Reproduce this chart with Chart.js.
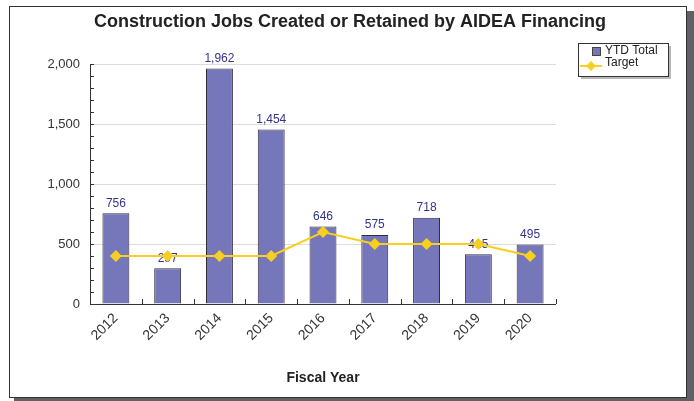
<!DOCTYPE html>
<html>
<head>
<meta charset="utf-8">
<script src="https://cdn.jsdelivr.net/npm/chart.js@4"></script>
<style>
  html, body { margin: 0; padding: 0; background: #fff; }
  #wrap { position: relative; width: 694px; height: 401px; }
</style>
</head>
<body>
<div id="wrap"><canvas id="jobsChart" width="694" height="401"></canvas></div>
<script>
// chart data
const years = ['2012', '2013', '2014', '2015', '2016', '2017', '2018', '2019', '2020'];
const ytdTotal = [756, 297, 1962, 1454, 646, 575, 718, 415, 495];
const target = [400, 400, 400, 400, 600, 500, 500, 500, 400];
const yTicks = [0, 500, 1000, 1500, 2000];

const barColor = '#7676bb';
const lineColor = '#f7cf1e';
const fontFam = '"Liberation Sans", Arial, sans-serif';

// frame, title, legend, value labels and small tick marks
const decorPlugin = {
    id: 'decor',
    beforeDraw(chart) {
        const ctx = chart.ctx;
        ctx.save();
        // shadow
        ctx.fillStyle = '#606066';
        ctx.fillRect(686, 11, 8, 390);
        ctx.fillRect(14, 397, 680, 4);
        ctx.fillStyle = '#fff';
        ctx.fillRect(9, 6, 677, 391);
        ctx.strokeStyle = '#333';
        ctx.lineWidth = 1;
        ctx.strokeRect(9.5, 6.5, 677, 391);
        // title
        ctx.fillStyle = '#222';
        ctx.font = 'bold 18px ' + fontFam;
        ctx.textAlign = 'center';
        ctx.textBaseline = 'middle';
        ctx.fillText('Construction Jobs Created or Retained by AIDEA Financing', 350, 22);
        ctx.restore();
    },
    afterDatasetDraw(chart, args) {
        if (args.index !== 0) return;
        // value labels above bars (under the target line)
        const ctx = chart.ctx;
        const meta = chart.getDatasetMeta(0);
        ctx.save();
        ctx.fillStyle = '#33338f';
        ctx.font = '12px ' + fontFam;
        ctx.textAlign = 'center';
        ctx.textBaseline = 'bottom';
        meta.data.forEach((bar, i) => {
            ctx.fillText(ytdTotal[i].toLocaleString('en-US'), bar.x, bar.y - 4);
        });
        ctx.restore();
    },
    afterDraw(chart) {
        const ctx = chart.ctx;
        const y = chart.scales.y;
        const area = chart.chartArea;
        ctx.save();
        // minor ticks on y axis
        ctx.strokeStyle = '#333';
        ctx.lineWidth = 1;
        for (let v = 0; v <= 2000; v += 100) {
            const py = Math.round(y.getPixelForValue(v)) + 0.5;
            ctx.beginPath();
            ctx.moveTo(area.left, py);
            ctx.lineTo(area.left + 4, py);
            ctx.stroke();
        }
        // ticks between categories on x axis
        const step = (area.right - area.left) / years.length;
        for (let i = 1; i <= years.length; i++) {
            const px = Math.round(area.left + step * i) + 0.5;
            ctx.beginPath();
            ctx.moveTo(px, area.bottom);
            ctx.lineTo(px, area.bottom - 5);
            ctx.stroke();
        }
        // axis lines
        ctx.beginPath();
        ctx.moveTo(area.left + 0.5, area.top);
        ctx.lineTo(area.left + 0.5, area.bottom + 0.5);
        ctx.lineTo(area.right, area.bottom + 0.5);
        ctx.stroke();

        // legend box
        const lx = 578, ly = 43, lw = 90, lh = 33;
        ctx.fillStyle = '#b8b8b8';
        ctx.fillRect(lx + 3, ly + 3, lw, lh);
        ctx.fillStyle = '#fff';
        ctx.fillRect(lx, ly, lw, lh);
        ctx.strokeStyle = '#333';
        ctx.strokeRect(lx + 0.5, ly + 0.5, lw, lh);
        ctx.fillStyle = barColor;
        ctx.fillRect(592, 47, 9, 9);
        ctx.strokeStyle = '#444';
        ctx.strokeRect(592.5, 47.5, 8, 8);
        ctx.strokeStyle = lineColor;
        ctx.lineWidth = 2;
        ctx.beginPath();
        ctx.moveTo(580, 66);
        ctx.lineTo(602, 66);
        ctx.stroke();
        ctx.fillStyle = lineColor;
        ctx.beginPath();
        ctx.moveTo(591, 61);
        ctx.lineTo(596, 66);
        ctx.lineTo(591, 71);
        ctx.lineTo(586, 66);
        ctx.closePath();
        ctx.fill();
        ctx.fillStyle = '#222';
        ctx.font = '12px ' + fontFam;
        ctx.textAlign = 'left';
        ctx.textBaseline = 'middle';
        ctx.fillText('YTD Total', 605, 51);
        ctx.fillText('Target', 605, 63);
        ctx.restore();
    }
};

const ctx = document.getElementById('jobsChart').getContext('2d');
new Chart(ctx, {
    data: {
        labels: years,
        datasets: [{
            type: 'bar',
            label: 'YTD Total',
            data: ytdTotal,
            backgroundColor: barColor,
            borderColor: '#2e2e3a',
            borderWidth: 1,
            barPercentage: 0.52,
            categoryPercentage: 1.0,
            order: 2
        }, {
            type: 'line',
            label: 'Target',
            data: target,
            borderColor: lineColor,
            backgroundColor: lineColor,
            borderWidth: 2,
            pointStyle: 'rectRot',
            pointRadius: 6,
            pointBorderWidth: 0,
            tension: 0,
            order: 1
        }]
    },
    options: {
        responsive: false,
        animation: false,
        layout: { padding: { left: 10, top: 64, right: 138, bottom: 14 } },
        plugins: {
            legend: { display: false },
            title: { display: false },
            tooltip: { enabled: false }
        },
        scales: {
            x: {
                grid: { display: false, drawTicks: false },
                border: { display: false },
                ticks: {
                    maxRotation: 45,
                    minRotation: 45,
                    padding: 6,
                    color: '#333',
                    font: { family: fontFam, size: 14 }
                },
                title: {
                    display: true,
                    text: 'Fiscal Year',
                    color: '#222',
                    padding: { top: 0, bottom: 0 },
                    font: { family: fontFam, size: 14, weight: 'bold' }
                },
                afterFit(scale) { scale.height = 83; }
            },
            y: {
                min: 0,
                max: 2000,
                afterBuildTicks(scale) {
                    scale.ticks = yTicks.map(v => ({ value: v }));
                },
                grid: {
                    color: ctx2 => ctx2.tick && ctx2.tick.value > 0 ? '#dcdcdc' : 'transparent',
                    drawTicks: false
                },
                border: { display: false },
                ticks: {
                    padding: 10,
                    color: '#333',
                    font: { family: fontFam, size: 13 },
                    callback: v => v.toLocaleString('en-US')
                },
                afterFit(scale) { scale.width = 80; }
            }
        }
    },
    plugins: [decorPlugin]
});
</script>
</body>
</html>
